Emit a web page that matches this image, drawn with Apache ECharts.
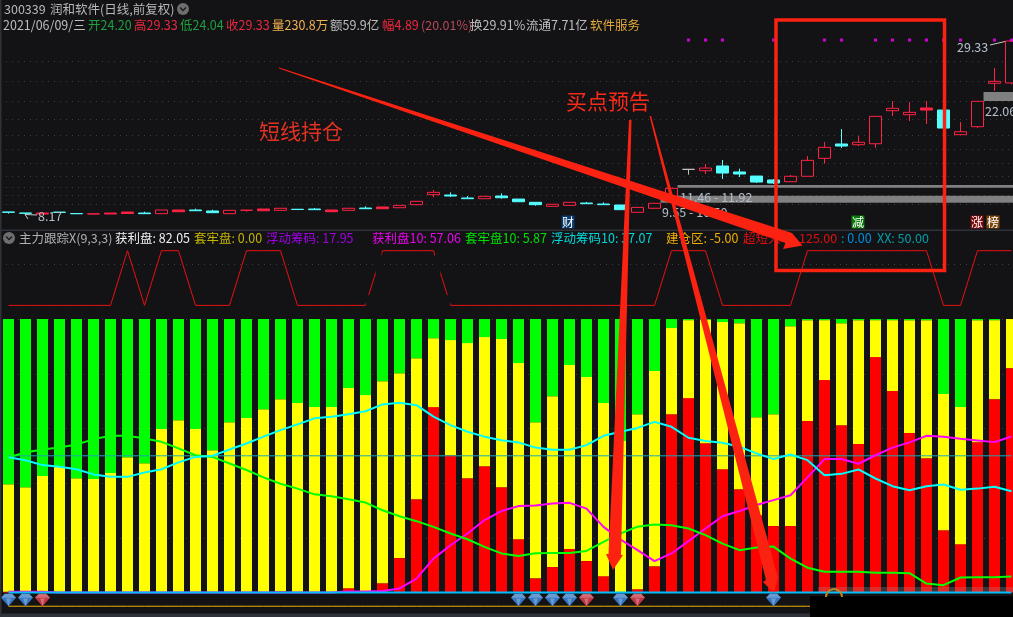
<!DOCTYPE html>
<html><head><meta charset="utf-8">
<style>html,body{margin:0;padding:0;background:#131316;overflow:hidden}#c{width:1013px;height:617px}</style>
<script src="https://cdn.jsdelivr.net/npm/echarts@6/dist/echarts.min.js"></script>
</head><body><div id="c"></div>
<script>
const barCount = 60;
const categories = Array.from({length: barCount}, (_, i) => 'D' + (i + 1));

// [open, close, low, high]
const candles = [
 [8.43,8.39,8.22,8.43],[8.30,8.27,8.17,8.30],[8.18,8.30,8.18,8.33],[8.41,8.38,8.38,8.41],[8.24,8.21,8.21,8.24],
 [8.18,8.20,8.18,8.20],[8.18,8.30,8.18,8.30],[8.24,8.42,8.24,8.42],[8.30,8.22,8.22,8.46],[8.22,8.67,8.22,8.67],
 [8.46,8.67,8.46,8.67],[8.67,8.58,8.58,8.83],[8.55,8.34,8.34,8.71],[8.22,8.63,8.22,8.63],[8.63,8.65,8.46,8.65],
 [8.58,8.79,8.58,8.79],[8.63,8.88,8.63,8.88],[8.76,8.73,8.73,8.76],[8.79,8.71,8.71,8.91],[8.46,8.67,8.46,8.67],
 [8.63,8.88,8.63,8.88],[8.91,8.83,8.83,9.12],[8.83,9.04,8.83,9.04],[8.95,9.24,8.95,9.24],[9.32,9.73,9.32,9.73],
 [10.54,10.83,10.22,11.12],[10.50,10.38,10.26,10.83],[10.14,10.05,10.05,10.38],[10.05,10.34,10.05,10.42],[10.38,10.17,10.05,10.71],
 [10.01,9.68,9.68,10.01],[9.61,9.32,9.19,9.61],[9.12,9.37,9.12,9.37],[9.24,9.61,9.24,9.61],[9.52,9.44,9.44,9.65],
 [9.40,9.32,9.32,9.61],[9.28,8.71,8.71,9.28],[8.39,8.99,8.39,8.99],[8.88,9.49,8.88,9.49],[10.38,11.32,10.38,11.32],
 [13.64,13.64,12.99,13.64],[13.47,13.80,13.07,14.29],[14.05,13.19,12.46,14.78],[13.32,13.07,12.70,13.72],[12.82,12.09,11.97,12.82],
 [12.34,11.97,11.85,12.46],[12.13,12.79,12.13,12.95],[12.79,14.74,12.79,15.27],[14.99,16.33,14.33,16.98],[16.74,16.49,16.25,18.57],
 [16.65,16.95,16.49,17.72],[16.77,20.12,16.25,20.12],[20.81,21.10,20.16,21.99],[20.32,20.61,19.55,21.87],[20.89,21.14,19.18,21.99],
 [20.89,18.69,18.69,20.89],[17.88,18.24,17.88,19.43],[18.85,21.96,18.69,21.96],[24.16,24.40,23.22,26.03],[24.20,29.33,24.04,29.33]
];
const solidRedBars = [2,6,7,10,15,19,22,54];
const priceGrid = [26.89,24.44,21.99,19.79,17.84,16.13,14.42,12.77,11.48,10.44,9.40];
const magentaDotBars = [40,41,42,45,48,49,51,52,53,54,55,56,58,59];
const magentaDotPrice = 29.45;
// [start bar, low, high]
const gapBands = [[39,11.38,11.74],[38,9.56,10.40],[57,22.0,23.1]];

const profitChips = [0.3,0,0,0,0,0,0,0,0,0, 0,0,0,0,0,0,0.5,0,0,0,
 1.6,0,3.4,12.6,34.1,67.8,50.2,41.8,46.2,38.5, 19.5,5.2,9.3,15.9,11.5,6,0,1.2,9.6,65.2,
 71.1,54.6,45.1,37.8,28.3,24.3,24.3,62.7,77.7,61.2, 54.3,86.1,73.7,58.3,49.1,22.8,17.7,55,70.7,82.05];
const yellowTop = [39.6,38.5,42.6,45.9,41.8,41.5,43.7,49.5,47.3,59.8, 63,59.8,52,62.3,63.8,67,70.7,69.3,67.8,67.8,
 74.8,72.2,77.3,80.2,85.7,93,92.3,91.2,93.4,92.7, 83.9,62.3,71.8,83.2,78.8,69.3,55.4,65.2,81,96.7,
 99.6,99.8,98.9,98.5,64.1,65.2,97.4,99.6,99.6,98.5, 99.6,99.6,99.6,99.6,99.6,72.6,67.8,99.6,99.6,100];
const float10 = [49.5,48.4,46.6,46,45.1,43.2,42.3,42.3,43.9,45.1, 47.6,49.6,50,52.3,54.5,57,59.4,61.5,63.7,64.3,
 65.2,66.3,68.8,69.4,68.5,64.3,61.2,58.8,57,55.7, 54.9,53,52.2,52.2,53.9,57.3,58.8,60.2,62.4,60.6,
 56.6,55.4,54.8,53.3,50.9,48.8,50.5,48.4,42.9,43.4, 45,41.7,38.9,37.4,38.9,39.5,37.6,38,38.7,37.07];
const trapped10 = [49.5,51.2,52.3,53,54.1,56.1,57.3,57.3,56.3,55.1, 52.7,50.2,49.6,47.2,44.8,42.1,39.8,38,35.9,35.2,
 34.1,32.9,30.1,27.9,26.1,24,21.6,19.5,16.7,14.3, 13.4,14.4,14.5,14.5,15.2,18.5,21.6,24.1,24.9,24.6,
 23.4,21,17.9,15.5,16.5,16.8,12.4,9.1,7.6,7.6, 7.6,7.2,7.2,7.1,3.3,2.7,5.5,5.6,5.6,5.87];
const profit10 = [0.3,0.3,0.3,0,0,0,0,0,0,0, 0,0,0,0,0,0,0,0,0,0,
 0.4,0.4,0.6,1.5,5.1,12.4,17.3,21.6,26.5,29.8, 31.6,31.8,32.6,32.8,30.7,24,19.4,15.5,11.5,14.3,
 18.8,23.4,27.9,29.8,32,33.8,35.6,42.1,48.8,48.8, 47.1,50.2,53,54.9,57.3,57,56.2,55.6,55,57.06];
const shortTerm = [105,105,105,105,105,105,105,125,105,125, 125,105,105,105,125,125,125,105,105,105,
 105,105,125,125,125,125,105,105,105,105, 105,105,105,105,105,105,105,105,105,125,
 125,125,105,105,105,105,105,125,125,125, 125,125,125,125,125,105,105,125,125,125];
const buyLevel = -5, xxLevel = 50, baseLevel = 0, gemLevel = -2.7;
const blueGemBars = [0,1,30,31,32,33,36,45];
const redGemBars = [2,34,37];

const headerRow2 = [
 ['2021/06/09/三',3,'#bdbdbd'],['开24.20',88,'#1f9e3f'],['高29.33',134,'#e8283f'],['低24.04',180,'#1f9e3f'],
 ['收29.33',226,'#e8283f'],['量230.8万',272,'#f0b050'],['额59.9亿',330,'#bdbdbd'],['幅4.89',382,'#f0283f'],
 ['(20.01%)',421,'#b84a58'],['换29.91%',470,'#bdbdbd'],['流通7.71亿',526,'#bdbdbd'],['软件服务',590,'#e0a83a']
];
const headerRow3 = [
 ['主力跟踪X(9,3,3)',19,'#b0b0b0'],['获利盘: 82.05',115,'#f0f0f0'],['套牢盘: 0.00',194,'#c4b400'],
 ['浮动筹码: 17.95',266,'#a000e6'],['获利盘10: 57.06',372,'#f000f0'],['套牢盘10: 5.87',465,'#00e000'],
 ['浮动筹码10: 37.07',551,'#00d8d8'],['建仓区: -5.00',666,'#f0b000'],['超短入场',743,'#e01010'],['125.00',799,'#e01010'],
 [': 0.00',841,'#0090e0'],['XX: 50.00',877,'#00a0a8']
];
const FONT = '"Noto Sans CJK SC","Noto Sans",sans-serif';

const RED = '#ff2244', CYAN = '#55ffff', BG = '#131316';
const candleData = candles.map((v, i) => solidRedBars.includes(i)
  ? {value: v, itemStyle: {color: RED}} : {value: v});

const txt = (t, x, y, fill, size) => ({type:'text', silent:true, z:50,
  style:{text:t, x, y, fill, font:`${size||12.5}px ${FONT}`, verticalAlign:'middle', textVerticalAlign:'middle'}});
const poly = (pts, fill) => ({type:'polygon', silent:true, z:100, shape:{points:pts}, style:{fill:fill||'#fb2212'}});
const chevron = (x, y) => [
  {type:'circle', silent:true, z:50, shape:{cx:x,cy:y,r:6}, style:{fill:'#6e6e6e'}},
  {type:'polyline', silent:true, z:51, shape:{points:[[x-3,y-1.5],[x,y+1.5],[x+3,y-1.5]]}, style:{stroke:'#1c1c1c',lineWidth:1.5,fill:null}}];
const badge = (t, cx, bg) => [
  {type:'rect', silent:true, z:50, shape:{x:cx-6.5,y:215.5,width:13,height:13}, style:{fill:bg}},
  {type:'text', silent:true, z:51, style:{text:t, x:cx, y:222, fill:'#fff', font:`12px ${FONT}`, align:'center', textAlign:'center', verticalAlign:'middle', textVerticalAlign:'middle'}}];
const seg = (pts, c, w) => ({type:'polyline', silent:true, z:50, shape:{points:pts}, style:{stroke:c, lineWidth:w||1, fill:null}});
const mask = (x, y, w, h) => ({type:'rect', silent:true, z:30, shape:{x,y,width:w,height:h}, style:{fill:BG}});

const graphics = [
  mask(366,295,3.5,12), mask(375.5,252.5,6,21), mask(435,252.5,5.5,21), mask(447,295,3,12),
  {type:'rect', silent:true, z:40, shape:{x:0,y:229.5,width:1013,height:1.5}, style:{fill:'#30323a'}},
  {type:'rect', silent:true, z:40, shape:{x:0,y:0,width:1.5,height:617}, style:{fill:'#30323a'}},
  {type:'rect', silent:true, z:40, shape:{x:0,y:613.5,width:810,height:3.5}, style:{fill:'#30323a'}},
  {type:'rect', silent:true, z:45, shape:{x:810,y:596,width:203,height:21}, style:{fill:'#000'}},
  {type:'rect', silent:true, z:45, shape:{x:818,y:587,width:195,height:5}, style:{fill:'rgba(150,150,150,0.28)'}},
  {type:'arc', silent:true, z:46, shape:{cx:834,cy:597,r:8,startAngle:Math.PI,endAngle:2*Math.PI}, style:{stroke:'#b88a20',lineWidth:2,fill:null}},
  txt('300339',4,9,'#b8b8b8'), txt('润和软件(日线,前复权)',50,9,'#b8b8b8'),
  ...chevron(183,9), ...chevron(9,238),
  ...headerRow2.map(r => txt(r[0],r[1],25,r[2])),
  ...headerRow3.map(r => txt(r[0],r[1],238.5,r[2])),
  ...badge('财',568,'#0a3a6e'), ...badge('减',858,'#0a780a'), ...badge('涨',977,'#7a0a0a'), ...badge('榜',993,'#7a460a'),
  txt('8.17',38,216,'#b4c0cc'), seg([[25,214.5],[37,215]],'#c8c8c8'), seg([[25,214.5],[28,219]],'#c8c8c8'),
  txt('29.33',957,47,'#b4c0cc'), seg([[990,45],[1005,41.5]],'#c8c8c8'),
  txt('22.06',985,111,'#b4c0cc'),
  txt('11.46 - 11.92',680,197.5,'#b4bcc8'), txt('9.55 - 10.50',662,212,'#b4c0cc'),
  {type:'text', silent:true, z:90, style:{text:'短线持仓', x:259, y:131, fill:'#e03222', font:`21px ${FONT}`, verticalAlign:'middle', textVerticalAlign:'middle'}},
  {type:'text', silent:true, z:90, style:{text:'买点预告', x:566, y:101, fill:'#fb2a18', font:`21px ${FONT}`, verticalAlign:'middle', textVerticalAlign:'middle'}},
  {type:'rect', silent:true, z:100, shape:{x:776,y:20,width:168.5,height:250.5}, style:{fill:null, stroke:'#fb2212', lineWidth:3.5}},
  poly([[279,67.5],[792,233],[802.5,245.5],[783,249],[785.5,243],[279,68.5]]),
  poly([[629,120],[631.5,120],[621,555],[623,555],[613,570],[606,554],[608.5,554]]),
  poly([[649.5,116],[651,116],[777,574],[778,577],[774,593],[763,582],[766,580]])
];

const GEM = 'path://M4 0H12L16 4.5L8 14L0 4.5Z';
const FACET = 'path://M4 0H12L16 4.5H0Z M5.5 5.5H10.5L8 14L8 14Z';
const option = {
  animation:false, backgroundColor:BG, textStyle:{fontFamily:FONT},
  grid:[
    {left:0, width:1020, top:29.8, height:200.4, outerBoundsMode:'none', containLabel:false},
    {left:0, width:1020, top:237, height:410.25, outerBoundsMode:'none', containLabel:false}
  ],
  xAxis:[
    {type:'category', gridIndex:0, data:categories, show:false, boundaryGap:true},
    {type:'category', gridIndex:1, data:categories, show:false, boundaryGap:true}
  ],
  yAxis:[
    {type:'value', gridIndex:0, min:6.2, max:30.7, show:false, splitLine:{show:false}},
    {type:'value', gridIndex:1, min:-20, max:130, interval:20,
     axisLine:{show:false}, axisTick:{show:false}, axisLabel:{show:false},
     splitLine:{show:true, showMaxLine:false, lineStyle:{color:'#3c3c40', type:[1,5], width:1}}}
  ],
  graphic:{elements:graphics},
  series:[
    {type:'custom', xAxisIndex:0, yAxisIndex:0, silent:true, z:1, clip:true, data:gapBands,
     encode:{x:0,y:[1,2]},
     renderItem:(p, api) => {
       const a = api.coord([api.value(0), api.value(2)]);
       const b = api.coord([api.value(0), api.value(1)]);
       const left = a[0] + 6;
       return {type:'rect', shape:{x:left, y:a[1], width:1020-left, height:b[1]-a[1]}, style:{fill:'#808080'}};
     }},
    {type:'candlestick', xAxisIndex:0, yAxisIndex:0, barWidth:12, z:3, silent:true,
     data:candleData,
     itemStyle:{color:BG, color0:CYAN, borderColor:RED, borderColor0:CYAN, borderColorDoji:'#c4c4c4', borderWidth:1},
     markLine:{silent:true, symbol:'none', label:{show:false}, animation:false, z:1,
       lineStyle:{color:'#3c3c40', type:[1,5], width:1},
       data:priceGrid.map(p => ({yAxis:p}))}},
    {type:'scatter', xAxisIndex:0, yAxisIndex:0, symbol:'rect', symbolSize:3, z:4, silent:true,
     itemStyle:{color:'#ff00ff'},
     data:magentaDotBars.map(i => [i, magentaDotPrice])},
    {type:'bar', xAxisIndex:1, yAxisIndex:1, stack:'chips', barWidth:11, z:2, silent:true,
     itemStyle:{color:'#ff0000'}, data:profitChips},
    {type:'bar', xAxisIndex:1, yAxisIndex:1, stack:'chips', barWidth:11, z:2, silent:true,
     itemStyle:{color:'#ffff00'}, data:yellowTop.map((t,i) => +(t-profitChips[i]).toFixed(2))},
    {type:'bar', xAxisIndex:1, yAxisIndex:1, stack:'chips', barWidth:11, z:2, silent:true,
     itemStyle:{color:'#00ff00'}, data:yellowTop.map(t => +(100-t).toFixed(2))},
    {type:'line', xAxisIndex:1, yAxisIndex:1, data:shortTerm, showSymbol:false, z:3, silent:true, lineStyle:{color:'#e81010',width:1}},
    {type:'line', xAxisIndex:1, yAxisIndex:1, data:categories.map(()=>xxLevel), showSymbol:false, z:3, silent:true, lineStyle:{color:'#19a8b4',width:1}},
    {type:'line', xAxisIndex:1, yAxisIndex:1, data:profit10, showSymbol:false, z:4, silent:true, lineStyle:{color:'#ff00ff',width:2}},
    {type:'line', xAxisIndex:1, yAxisIndex:1, data:trapped10, showSymbol:false, z:4, silent:true, lineStyle:{color:'#00ff00',width:2}},
    {type:'line', xAxisIndex:1, yAxisIndex:1, data:float10, showSymbol:false, z:4, silent:true, lineStyle:{color:'#00ffff',width:2}},
    {type:'line', xAxisIndex:1, yAxisIndex:1, data:categories.map(()=>baseLevel), showSymbol:false, z:5, silent:true, lineStyle:{color:'#00bfff',width:2}},
    {type:'line', xAxisIndex:1, yAxisIndex:1, data:categories.map(()=>buyLevel), showSymbol:false, z:3, silent:true, lineStyle:{color:'#f0b000',width:1}},
    {type:'scatter', xAxisIndex:1, yAxisIndex:1, z:6, silent:true, symbol:GEM, symbolSize:[15,12.5], symbolKeepAspect:false,
     itemStyle:{color:'#3f90ee'}, data:blueGemBars.map(i => [i, gemLevel])},
    {type:'scatter', xAxisIndex:1, yAxisIndex:1, z:6, silent:true, symbol:GEM, symbolSize:[15,12.5], symbolKeepAspect:false,
     itemStyle:{color:'#ee4050'}, data:redGemBars.map(i => [i, gemLevel])},
    {type:'scatter', xAxisIndex:1, yAxisIndex:1, z:7, silent:true, symbol:FACET, symbolSize:[15,12.5], symbolKeepAspect:false,
     itemStyle:{color:'rgba(255,255,255,0.32)'}, data:blueGemBars.concat(redGemBars).map(i => [i, gemLevel])}
  ]
};
echarts.init(document.getElementById('c'), null, {renderer:'canvas', width:1013, height:617}).setOption(option);
</script></body></html>
